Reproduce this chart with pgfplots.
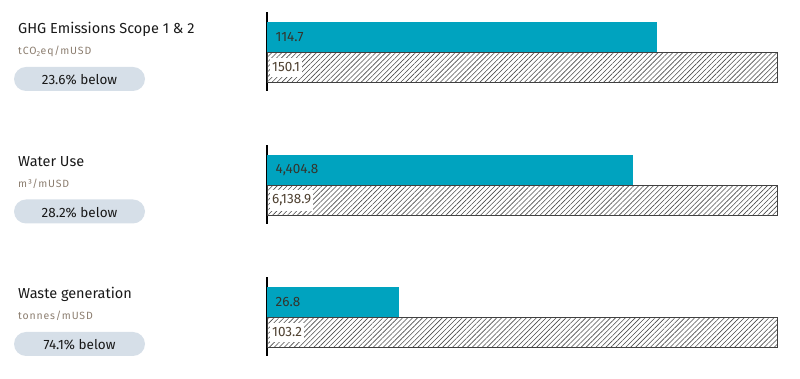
\documentclass[border=0pt]{standalone}
\usepackage{pgfplots}
\pgfplotsset{compat=1.18}
\usepackage{fontspec}
\setmainfont{Fira Sans}
\usetikzlibrary{patterns.meta}
\definecolor{teal1}{RGB}{0,163,191}
\definecolor{pill}{RGB}{214,223,232}
\definecolor{subc}{RGB}{140,126,112}
\definecolor{vald}{RGB}{52,52,44}
\definecolor{valb}{RGB}{78,64,48}
\pgfplotsset{panel/.style={
  width=510pt, height=79pt, scale only axis,
  xmin=0, ymin=0, ymax=79,
  axis x line=none, axis y line*=left,
  y axis line style={line width=2pt, black},
  xtick=\empty, ytick=\empty, clip=false,
}}
\pgfplotsset{cur/.style={xbar, bar width=30.5pt, bar shift=0pt, fill=teal1, draw=none},
  bench/.style={xbar, bar width=30.5pt, bar shift=0pt, draw=black!75, line width=0.8pt,
    pattern={Lines[angle=45,distance=3.5pt,line width=0.6pt]}, pattern color=black!70}}
\newcommand{\vallab}[3]{\node[anchor=west, text=vald, font=\fontsize{13.5}{15}\selectfont, inner sep=0pt] at (axis cs:0,54) {\hspace{8.5pt}#1};
  \node[anchor=west, text=valb, font=\fontsize{13.5}{15}\selectfont, fill=white, inner xsep=2pt, inner ysep=5pt] at ([xshift=3pt]axis cs:0,23.5) {#2};}
\begin{document}
\begin{tikzpicture}[x=1pt,y=1pt]
\useasboundingbox (0,0) rectangle (800,379);
% panel texts
\foreach \t/\s/\p/\T in {{GHG Emissions Scope 1 \& 2}/{tCO\textsubscript{2}eq/mUSD}/{23.6\% below}/0,
  {Water Use}/{m³/mUSD}/{28.2\% below}/132.5,
  {Waste generation}/{tonnes/mUSD}/{74.1\% below}/265}{
  \node[anchor=base west, inner sep=0pt, font=\fontsize{14.5}{17}\selectfont, text=black!90] at (18,379-34-\T) {\t};
  \node[anchor=base west, inner sep=0pt, font=\fontsize{10.5}{12}\selectfont\addfontfeatures{LetterSpace=8}, text=subc] at (18,379-55-\T) {\s};
  \fill[pill, rounded corners=12pt] (14,379-91-\T) rectangle (145,379-67-\T);
  \node[anchor=base, inner sep=0pt, font=\fontsize{13.5}{16}\selectfont, text=black!90] at (79.5,379-85-\T) {\p};
}
\begin{axis}[panel, xmax=150.1, at={(267pt,288pt)}, anchor=south west]
\addplot[cur] coordinates {(114.7,54)};
\addplot[bench] coordinates {(150.1,23.5)};
\vallab{114.7}{150.1}{}
\end{axis}
\begin{axis}[panel, xmax=6138.9, at={(267pt,155pt)}, anchor=south west]
\addplot[cur] coordinates {(4404.8,54)};
\addplot[bench] coordinates {(6138.9,23.5)};
\vallab{4,404.8}{6,138.9}{}
\end{axis}
\begin{axis}[panel, xmax=103.2, at={(267pt,23pt)}, anchor=south west]
\addplot[cur] coordinates {(26.8,54)};
\addplot[bench] coordinates {(103.2,23.5)};
\vallab{26.8}{103.2}{}
\end{axis}
\end{tikzpicture}
\end{document}
